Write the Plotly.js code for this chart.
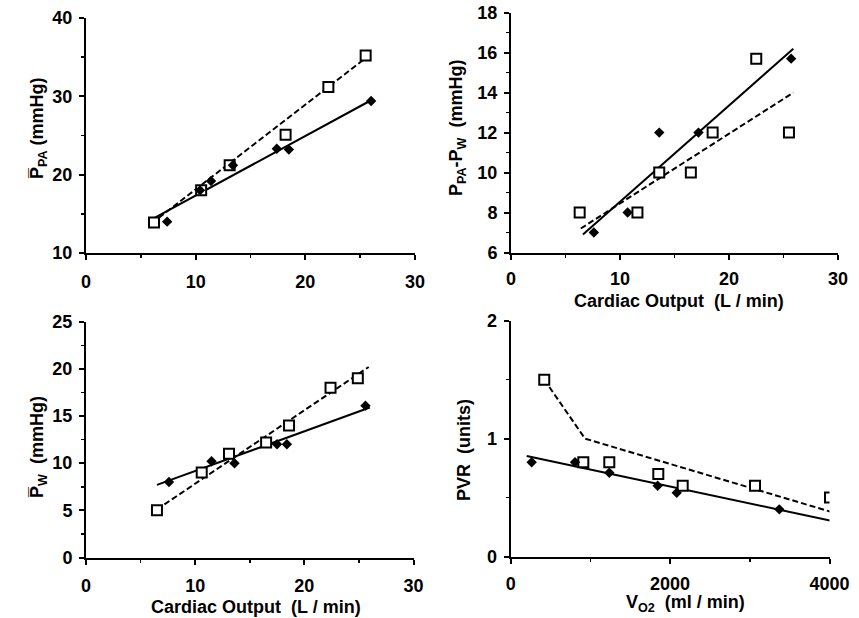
<!DOCTYPE html>
<html>
<head>
<meta charset="utf-8">
<script src="https://cdn.plot.ly/plotly-3.0.1.min.js"></script>
<style>html,body{margin:0;padding:0;background:#fff;}#chart{width:859px;height:618px;}</style>
</head>
<body>
<div id="chart"></div>
<script>
// ---- Panel A: mean PPA vs cardiac output ----
const aSquareX = [6.2, 10.5, 13.1, 18.2, 22.1, 25.5];
const aSquareY = [13.9, 18.0, 21.2, 25.1, 31.2, 35.2];
const aDiamondX = [7.4, 10.4, 11.4, 13.4, 17.4, 18.5, 26.0];
const aDiamondY = [14.0, 18.0, 19.2, 21.2, 23.3, 23.2, 29.4];
const aSolidX = [6.0, 26.0];
const aSolidY = [14.3, 29.5];
const aDashX = [6.0, 25.7];
const aDashY = [13.8, 35.1];

// ---- Panel B: PPA - PW vs cardiac output ----
const bSquareX = [6.3, 11.6, 13.6, 16.5, 18.5, 22.5, 25.5];
const bSquareY = [8.0, 8.0, 10.0, 10.0, 12.0, 15.7, 12.0];
const bDiamondX = [7.6, 10.7, 13.6, 17.2, 25.7];
const bDiamondY = [7.0, 8.0, 12.0, 12.0, 15.7];
const bSolidX = [6.6, 25.9];
const bSolidY = [6.9, 16.2];
const bDashX = [6.4, 25.9];
const bDashY = [7.2, 14.0];

// ---- Panel C: mean PW vs cardiac output ----
const cSquareX = [6.5, 10.6, 13.1, 16.5, 18.6, 22.4, 24.9];
const cSquareY = [5.0, 9.0, 11.0, 12.2, 14.0, 18.0, 19.0];
const cDiamondX = [7.6, 11.5, 13.6, 17.5, 18.4, 25.6];
const cDiamondY = [8.0, 10.2, 10.0, 12.0, 12.0, 16.1];
const cSolidX = [6.5, 26.0];
const cSolidY = [7.7, 15.9];
const cDashX = [6.5, 25.9];
const cDashY = [5.1, 20.2];

// ---- Panel D: PVR vs VO2 ----
const dSquareX = [421, 911, 1237, 1852, 2158, 3065, 4006];
const dSquareY = [1.5, 0.8, 0.8, 0.7, 0.6, 0.6, 0.5];
const dDiamondX = [263, 807, 1237, 1844, 2083, 3370];
const dDiamondY = [0.8, 0.8, 0.71, 0.6, 0.54, 0.4];
const dSolidX = [201, 4006];
const dSolidY = [0.853, 0.305];
const dDashX = [421, 932, 4048];
const dDashY = [1.5, 1.0, 0.373];

const panels = [
  {sx:aSquareX, sy:aSquareY, dx:aDiamondX, dy:aDiamondY, lx:aSolidX, ly:aSolidY, kx:aDashX, ky:aDashY, xa:'x', ya:'y'},
  {sx:bSquareX, sy:bSquareY, dx:bDiamondX, dy:bDiamondY, lx:bSolidX, ly:bSolidY, kx:bDashX, ky:bDashY, xa:'x2', ya:'y2'},
  {sx:cSquareX, sy:cSquareY, dx:cDiamondX, dy:cDiamondY, lx:cSolidX, ly:cSolidY, kx:cDashX, ky:cDashY, xa:'x3', ya:'y3'},
  {sx:dSquareX, sy:dSquareY, dx:dDiamondX, dy:dDiamondY, lx:dSolidX, ly:dSolidY, kx:dDashX, ky:dDashY, xa:'x4', ya:'y4'}
];

const traces = [];
panels.forEach(p => {
  traces.push({x:p.kx, y:p.ky, xaxis:p.xa, yaxis:p.ya, mode:'lines', line:{color:'#000', width:2, dash:'6px,3px'}, hoverinfo:'skip'});
  traces.push({x:p.lx, y:p.ly, xaxis:p.xa, yaxis:p.ya, mode:'lines', line:{color:'#000', width:2}, hoverinfo:'skip'});
  traces.push({x:p.sx, y:p.sy, xaxis:p.xa, yaxis:p.ya, mode:'markers', marker:{symbol:'square', size:10, color:'#fff', line:{color:'#000', width:2}}});
  traces.push({x:p.dx, y:p.dy, xaxis:p.xa, yaxis:p.ya, mode:'markers', marker:{symbol:'diamond', size:8, color:'#000', line:{color:'#000', width:0}}});
});

const W = 859, H = 618;
const fx = px => px / W;
const fy = py => 1 - py / H;
const FONT = 'Liberation Sans, Arial, sans-serif';
const tickFont = {family:FONT, size:18, color:'#000', weight:'bold'};
function minorTicks(d) {
  return {dtick:d, ticks:'outside', ticklen:3, tickwidth:1.5, tickcolor:'#000'};
}
function ax(extra) {
  return Object.assign({
    showgrid:false, zeroline:false, showline:true, linecolor:'#000', linewidth:2,
    ticks:'outside', ticklen:5, tickwidth:2, tickcolor:'#000',
    tickfont:tickFont, fixedrange:true
  }, extra);
}

const titleFont = {family:FONT, size:18, color:'#000', weight:'bold'};
const layout = {
  width:W, height:H, margin:{l:0, r:0, t:0, b:0},
  paper_bgcolor:'#fff', plot_bgcolor:'#fff', showlegend:false,
  font:{family:FONT, size:18, color:'#000', weight:'bold'},
  xaxis: ax({domain:[fx(86), fx(415)], range:[0,30], dtick:10, minor:minorTicks(5), anchor:'y', ticklabelstandoff:6}),
  yaxis: ax({domain:[fy(253), fy(18)], range:[10,40], dtick:10, minor:minorTicks(5), anchor:'x', ticklabelstandoff:3}),
  xaxis2: ax({domain:[fx(511), fx(838)], range:[0,30], dtick:10, minor:minorTicks(5), anchor:'y2', ticklabelstandoff:4}),
  yaxis2: ax({domain:[fy(252.5), fy(12.7)], range:[6,18], dtick:2, minor:minorTicks(1), anchor:'x2', ticklabelstandoff:3}),
  xaxis3: ax({domain:[fx(86), fx(413.5)], range:[0,30], dtick:10, minor:minorTicks(5), anchor:'y3', ticklabelstandoff:6}),
  yaxis3: ax({domain:[fy(557.5), fy(321.7)], range:[0,25], dtick:5, minor:minorTicks(2.5), anchor:'x3', ticklabelstandoff:3}),
  xaxis4: ax({domain:[fx(510.7), fx(829.5)], range:[0,4000], dtick:2000, minor:minorTicks(1000), anchor:'y4', ticklabelstandoff:5}),
  yaxis4: ax({domain:[fy(556.5), fy(320.7)], range:[0,2], dtick:1, minor:minorTicks(0.5), anchor:'x4', ticklabelstandoff:3}),
  annotations: [
    {text:'P\u0305<sub>PA</sub>\u00a0(mmHg)', xref:'paper', yref:'paper', x:fx(39), y:fy(128), textangle:-90, showarrow:false, xanchor:'center', yanchor:'middle', font:titleFont},
    {text:'P<sub>PA</sub>-P<sub>W</sub>\u00a0\u00a0(mmHg)', xref:'paper', yref:'paper', x:fx(458), y:fy(128), textangle:-90, showarrow:false, xanchor:'center', yanchor:'middle', font:titleFont},
    {text:'Cardiac Output\u00a0\u00a0(L / min)', xref:'paper', yref:'paper', x:fx(679), y:fy(301), showarrow:false, xanchor:'center', yanchor:'middle', font:titleFont},
    {text:'P\u0305<sub>W</sub>\u00a0\u00a0(mmHg)', xref:'paper', yref:'paper', x:fx(38), y:fy(447), textangle:-90, showarrow:false, xanchor:'center', yanchor:'middle', font:titleFont},
    {text:'Cardiac Output\u00a0\u00a0(L / min)', xref:'paper', yref:'paper', x:fx(256), y:fy(607), showarrow:false, xanchor:'center', yanchor:'middle', font:titleFont},
    {text:'PVR\u00a0\u00a0(units)', xref:'paper', yref:'paper', x:fx(464), y:fy(450), textangle:-90, showarrow:false, xanchor:'center', yanchor:'middle', font:titleFont},
    {text:'V<sub>O2</sub>\u00a0\u00a0(ml / min)', xref:'paper', yref:'paper', x:fx(685), y:fy(603), showarrow:false, xanchor:'center', yanchor:'middle', font:titleFont}
  ]
};

Plotly.newPlot('chart', traces, layout, {displayModeBar:false, staticPlot:true});
</script>
</body>
</html>
